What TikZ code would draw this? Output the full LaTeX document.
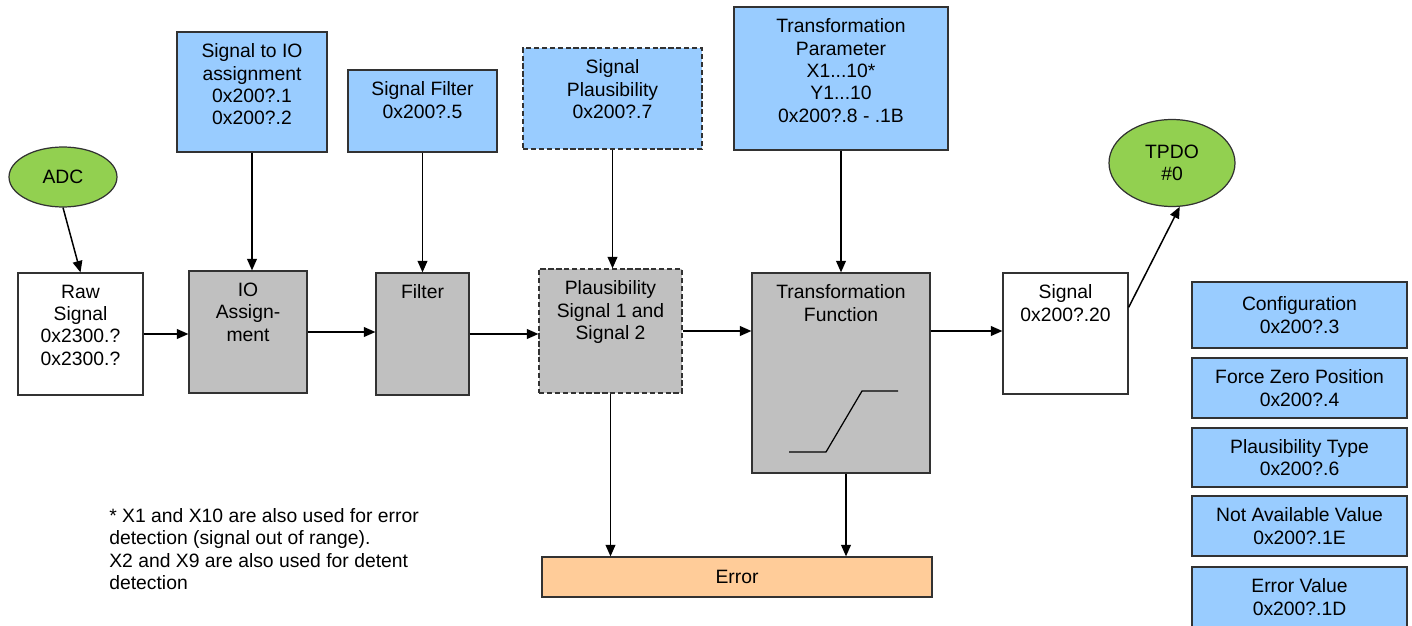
\documentclass[tikz,border=0pt]{standalone}
\usepackage{fontspec}
\setmainfont{Liberation Sans}
\usetikzlibrary{arrows.meta, shapes.geometric}
\definecolor{parblue}{RGB}{153,204,255}
\definecolor{blockgray}{RGB}{192,192,192}
\definecolor{portgreen}{RGB}{146,208,80}
\definecolor{errorange}{RGB}{255,204,153}
\definecolor{edge}{RGB}{50,50,50}

\begin{document}
\begin{tikzpicture}[x=0.02cm, y=-0.02cm,
		font=\fontsize{11}{12.75}\selectfont,
		box/.style={draw=edge, line width=0.7pt, inner sep=0pt, align=center},
		param/.style={box, fill=parblue},
		block/.style={box, fill=blockgray},
		plain/.style={box, fill=white},
		dotbox/.style={dash pattern=on 3pt off 1.5pt},
		port/.style={ellipse, draw=edge, line width=0.7pt, fill=portgreen, align=center, inner sep=0pt},
		toptext/.style={label={[anchor=north, align=center, inner sep=0pt, yshift=-0.24cm]north:{#1}}},
		flow/.style={-{Triangle[length=6.5pt, width=5.5pt]}, line width=0.85pt}]
		\useasboundingbox (0,0) rectangle (1412,625);
		% in and out
		\node[port, minimum width=2.16cm, minimum height=1.2cm] (adc) at (63,177) {ADC};
		\node[port, minimum width=2.52cm, minimum height=1.74cm] (tpdo) at (1172,163) {TPDO\\\#0};
		% parameters
		\node[param, minimum width=3cm, minimum height=2.4cm, toptext={Signal to IO\\assignment\\0x200?.1\\0x200?.2}] (ioparam) at (252,92) {};
		\node[param, minimum width=2.98cm, minimum height=1.64cm, toptext={Signal Filter\\0x200?.5}] (filtparam) at (422.5,111) {};
		\node[param, dotbox, minimum width=3.58cm, minimum height=2.02cm, toptext={Signal\\Plausibility\\0x200?.7}] (plausparam) at (612.5,98.5) {};
		\node[param, minimum width=4.28cm, minimum height=2.86cm, toptext={Transformation\\Parameter\\X1...10*\\Y1...10\\0x200?.8 - .1B}] (transparam) at (841,78.5) {};
		% signal chain
		\node[plain, minimum width=2.5cm, minimum height=2.44cm, toptext={Raw\\Signal\\0x2300.?\\0x2300.?}] (raw) at (80.5,334) {};
		\node[block, minimum width=2.36cm, minimum height=2.44cm, toptext={IO\\Assign-\\ment}] (ioassign) at (248,332) {};
		\node[block, minimum width=1.86cm, minimum height=2.44cm, toptext={Filter}] (filter) at (422.5,334) {};
		\node[block, dotbox, minimum width=2.86cm, minimum height=2.48cm, toptext={Plausibility\\Signal 1 and\\Signal 2}] (plaus) at (610.5,331) {};
		\node[block, minimum width=3.56cm, minimum height=4cm, toptext={Transformation\\Function}] (transfunc) at (841,373) {};
		\node[plain, minimum width=2.5cm, minimum height=2.42cm, toptext={Signal\\0x200?.20}] (signal) at (1065.5,333.5) {};
		\node[box, fill=errorange, minimum width=7.8cm, minimum height=0.8cm] (error) at (737,577) {Error};
		% ramp
		\draw[line width=0.7pt] (789,452) -- (826,452) -- (862,391) -- (898,391);
		% right hand
		\scope[every node/.style={param, minimum width=4.3cm}]
			\node[minimum height=1.32cm] (config) at (1299.5,315) {Configuration\\0x200?.3};
			\node[minimum height=1.2cm] (forcezero) at (1299.5,388) {Force Zero Position\\0x200?.4};
			\node[minimum height=1.18cm] (plaustype) at (1299.5,457.5) {Plausibility Type\\0x200?.6};
			\node[minimum height=1.2cm] (notavail) at (1299.5,526) {Not Available Value\\0x200?.1E};
			\node[minimum height=1.2cm] (errvalue) at (1299.5,597) {Error Value\\0x200?.1D};
		\endscope
		% note
		\node[anchor=north west, align=left, inner sep=0pt] (note) at (109,508) {* X1 and X10 are also used for error\\detection (signal out of range).\\X2 and X9 are also used for detent\\detection};
		% connectors
		\draw[flow] (adc.south) -- (raw.north);
		\draw[flow] (raw.east) -- (raw.east -| ioassign.west);
		\draw[flow] (ioassign.east) -- (ioassign.east -| filter.west);
		\draw[flow] (filter.east) -- (filter.east -| plaus.west);
		\draw[flow] (plaus.east) -- (plaus.east -| transfunc.west);
		\draw[flow] (plaus.east -| transfunc.east) -- (plaus.east -| signal.west);
		\draw[flow] (signal.north east) ++(0,35) -- (tpdo.-80);
		\draw[flow] (ioparam.south) -- (ioparam.south |- ioassign.north);
		\draw[flow] (filtparam.south) -- (filtparam.south |- filter.north);
		\draw[flow] (plausparam.south) -- (plausparam.south |- plaus.north);
		\draw[flow] (transparam.south) -- (transparam.south |- transfunc.north);
		\draw[flow] (plaus.south) -- (plaus.south |- error.north);
		\draw[flow] ([xshift=0.1cm]transfunc.south) -- ([xshift=0.1cm]transfunc.south |- error.north);
\end{tikzpicture}
\end{document}
